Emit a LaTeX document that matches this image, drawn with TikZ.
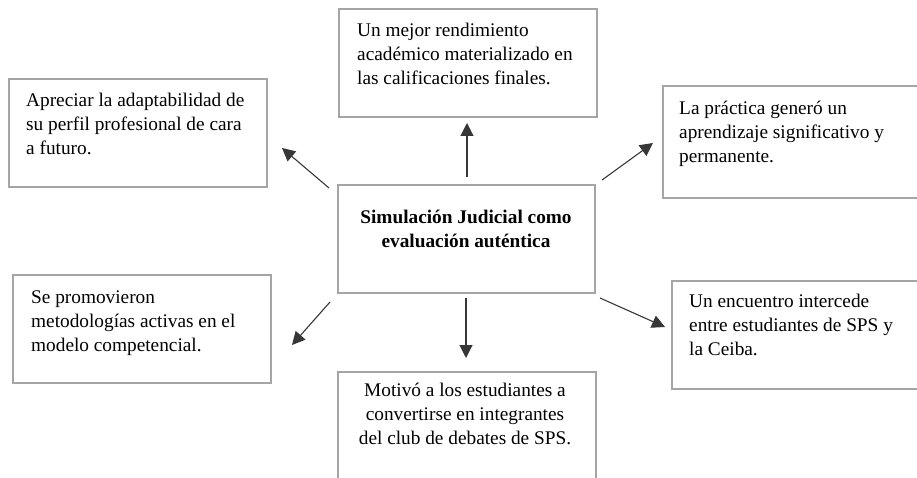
\documentclass[tikz,border=0pt]{standalone}
\usepackage{fontspec}
\setmainfont{Liberation Serif}
\usetikzlibrary{arrows.meta,fit}
\begin{document}
\begin{tikzpicture}[x=1pt,y=-1pt,
  box/.style={draw=boxgray, line width=1.4pt, inner sep=0pt},
  txt/.style={anchor=north west, inner sep=0pt, align=left, font=\fontsize{19.3}{24}\selectfont, execute at begin node=\strut},
  ctxt/.style={anchor=north, inner sep=0pt, align=center, font=\fontsize{19.3}{24}\selectfont, execute at begin node=\strut},
  arr/.style={draw=arrgray, line width=1.1pt, -{Triangle[length=13pt,width=13pt]}}]
\definecolor{boxgray}{RGB}{165,165,165}
\definecolor{arrgray}{RGB}{55,55,55}
\useasboundingbox (0,0) rectangle (917,478);
\clip (0,0) rectangle (917,478);
% boxes
\node[box, fit={(9,79) (267,187)}] (b1) {};
\node[box, fit={(339,9) (597,117)}] (b2) {};
\node[box, fit={(663,86) (930,198)}] (b3) {};
\node[box, fit={(338,185) (595,293)}] (bc) {};
\node[box, fit={(13,275) (271,383)}] (b5) {};
\node[box, fit={(672,281) (930,389)}] (b6) {};
\node[box, fit={(338,372) (596,490)}] (b7) {};
% texts
\node[txt] (t1) at (26,93) {Apreciar la adaptabilidad de\\su perfil profesional de cara\\a futuro.};
\node[txt] (t2) at (357,23) {Un mejor rendimiento\\académico materializado en\\las calificaciones finales.};
\node[txt] (t3) at (679,101) {La práctica generó un\\aprendizaje significativo y\\permanente.};
\node[ctxt, font=\fontsize{19.3}{24}\selectfont\bfseries] (tc) at (466,210) {Simulación Judicial como\\evaluación auténtica};
\node[txt] (t5) at (31,291) {Se promovieron\\metodologías activas en el\\modelo competencial.};
\node[txt] (t6) at (689,294) {Un encuentro intercede\\entre estudiantes de SPS y\\la Ceiba.};
\node[ctxt] (t7) at (465,383) {Motivó a los estudiantes a\\convertirse en integrantes\\del club de debates de SPS.};
% arrow ends
\coordinate (s1) at (329,188); \coordinate (e1) at (282,148);
\coordinate (s2) at (467,177); \coordinate (e2) at (467,123);
\coordinate (s3) at (602,180); \coordinate (e3) at (653,143);
\coordinate (s4) at (330,302); \coordinate (e4) at (292,345);
\coordinate (s5) at (466,298); \coordinate (e5) at (466,358);
\coordinate (s6) at (600,298); \coordinate (e6) at (665,327);
\draw[arr] (s1) -- (e1);
\draw[arr] (s2) -- (e2);
\draw[arr] (s3) -- (e3);
\draw[arr] (s4) -- (e4);
\draw[arr] (s5) -- (e5);
\draw[arr] (s6) -- (e6);
\end{tikzpicture}
\end{document}
